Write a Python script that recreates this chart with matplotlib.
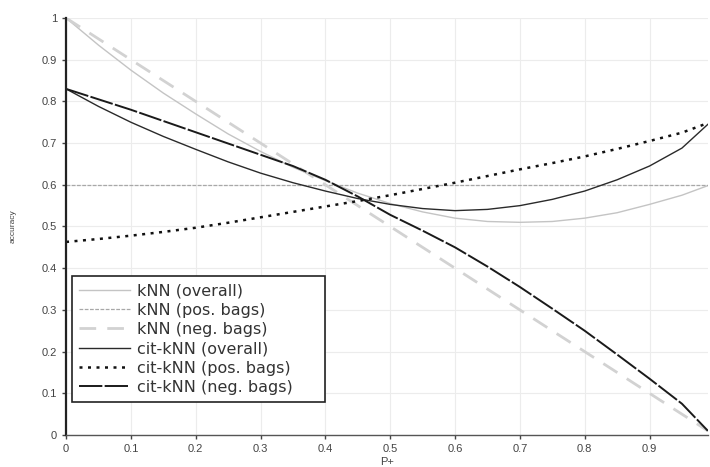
import matplotlib
matplotlib.use("Agg")
import matplotlib.pyplot as plt

plt.rcParams['font.family'] = ['Liberation Sans', 'DejaVu Sans']

# P+ sample positions
p_plus = [0.0, 0.05, 0.1, 0.15, 0.2, 0.25, 0.3, 0.35, 0.4, 0.45, 0.5,
          0.55, 0.6, 0.65, 0.7, 0.75, 0.8, 0.85, 0.9, 0.95, 0.99]

# values
knn_overall = [1.0, 0.935, 0.875, 0.82, 0.77, 0.722, 0.68, 0.642, 0.61, 0.58, 0.555,
               0.535, 0.52, 0.512, 0.51, 0.512, 0.52, 0.533, 0.553, 0.575, 0.598]
knn_pos = [0.6] * len(p_plus)
knn_neg = [1.0, 0.95, 0.9, 0.85, 0.8, 0.75, 0.7, 0.65, 0.6, 0.55, 0.5,
           0.45, 0.4, 0.35, 0.3, 0.25, 0.2, 0.15, 0.1, 0.05, 0.01]
cit_overall = [0.83, 0.788, 0.75, 0.716, 0.685, 0.655, 0.628, 0.605, 0.585, 0.567, 0.553,
               0.543, 0.538, 0.541, 0.55, 0.565, 0.585, 0.612, 0.645, 0.688, 0.745]
cit_pos = [0.463, 0.47, 0.478, 0.487, 0.497, 0.509, 0.522, 0.535, 0.548, 0.561, 0.575,
           0.59, 0.605, 0.621, 0.637, 0.652, 0.668, 0.686, 0.705, 0.725, 0.748]
cit_neg = [0.83, 0.805, 0.78, 0.753, 0.726, 0.699, 0.672, 0.645, 0.612, 0.572, 0.528,
           0.49, 0.45, 0.404, 0.355, 0.303, 0.25, 0.193, 0.135, 0.075, 0.01]

fig = plt.figure(figsize=(7.1, 4.67), dpi=100)
ax = fig.add_axes([0.093, 0.0685, 0.904, 0.893])

ax.plot(p_plus, knn_overall, color='#c4c4c4', lw=1.0, label='kNN (overall)')
ax.plot(p_plus, knn_pos, color='#a8a8a8', lw=0.9, dashes=(3, 1.2), label='kNN (pos. bags)')
ax.plot(p_plus, knn_neg, color='#d2d2d2', lw=2.0, dashes=(6, 4), label='kNN (neg. bags)')
ax.plot(p_plus, cit_overall, color='#2a2a2a', lw=1.0, label='cit-kNN (overall)')
ax.plot(p_plus, cit_pos, color='#111111', lw=1.8, dashes=(1.2, 2.2), label='cit-kNN (pos. bags)')
ax.plot(p_plus, cit_neg, color='#1a1a1a', lw=1.4, dashes=(12, 1.2), label='cit-kNN (neg. bags)')

ax.set_xlim(0, 0.99)
ax.set_ylim(0, 1)
ax.set_xticks([0, 0.1, 0.2, 0.3, 0.4, 0.5, 0.6, 0.7, 0.8, 0.9])
ax.set_xticklabels(['0', '0.1', '0.2', '0.3', '0.4', '0.5', '0.6', '0.7', '0.8', '0.9'])
ax.set_yticks([0, 0.1, 0.2, 0.3, 0.4, 0.5, 0.6, 0.7, 0.8, 0.9, 1])
ax.set_yticklabels(['0', '0.1', '0.2', '0.3', '0.4', '0.5', '0.6', '0.7', '0.8', '0.9', '1'])
ax.grid(True, color='#ececec', lw=0.8)
ax.set_axisbelow(True)

for s in ['top', 'right']:
    ax.spines[s].set_visible(False)
ax.spines['left'].set_linewidth(1.6)
ax.spines['left'].set_color('#222222')
ax.spines['bottom'].set_linewidth(1.0)
ax.spines['bottom'].set_color('#555555')
ax.tick_params(axis='both', labelsize=8, colors='#444444', length=3, width=1)

ax.set_xlabel('P+', fontsize=8, color='#444444', labelpad=2)
ax.set_ylabel('accuracy', fontsize=6, color='#444444', labelpad=18)

leg = ax.legend(loc='lower left', bbox_to_anchor=(0.009, 0.079, 0.394, 0.297),
                mode='expand', borderaxespad=0,
                prop={'family': 'DejaVu Sans', 'size': 11.5}, handlelength=3.2,
                handletextpad=0.45, labelspacing=0.27, fancybox=False,
                framealpha=1, edgecolor='#222222', borderpad=0.45)
leg.get_frame().set_linewidth(1.2)
for t in leg.get_texts():
    t.set_color('#333333')

fig.savefig('out.png', dpi=100)
